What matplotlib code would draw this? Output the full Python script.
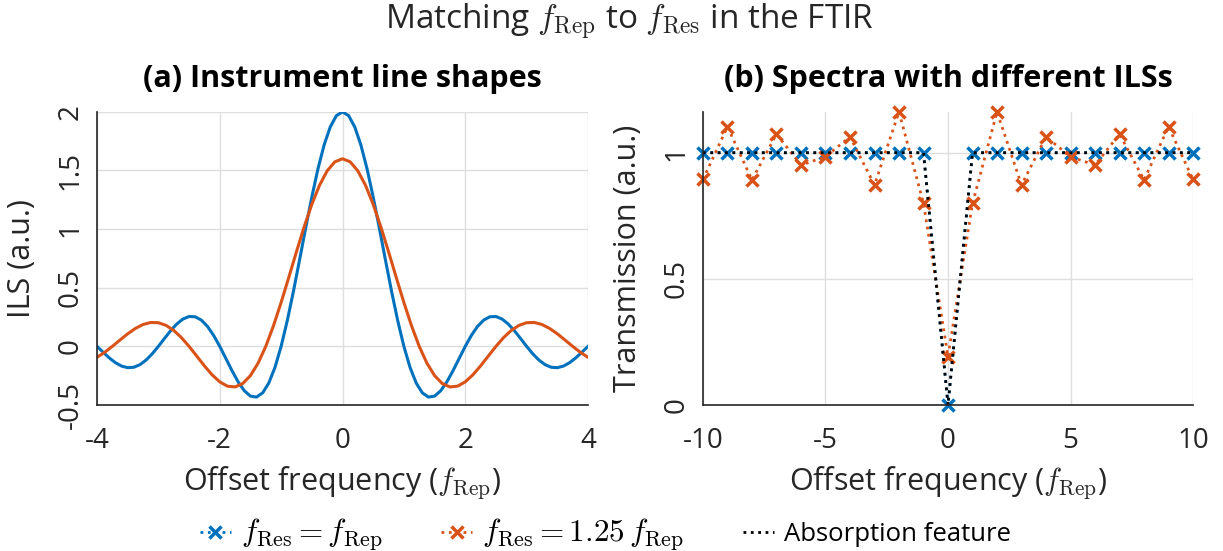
import numpy as np
import matplotlib.pyplot as plt

plt.rcParams['font.family'] = ['Open Sans', 'DejaVu Sans']
plt.rcParams['mathtext.fontset'] = 'cm'
plt.rcParams['axes.unicode_minus'] = False

BLUE = '#0072BD'
ORANGE = '#D95319'
TEXT = '#262626'

# ILS for f_Res = f_Rep, sampled every 0.1 f_Rep (positive side, symmetric)
ils_rep_x = np.round(np.arange(0, 41) * 0.1, 3)
ils_rep_y = [2.0, 1.9673, 1.8710, 1.7168, 1.5137, 1.2732, 1.0091, 0.7358, 0.4677, 0.2186,
             0.0, -0.1788, -0.3118, -0.3962, -0.4325, -0.4244, -0.3784, -0.3030, -0.2079, -0.1035,
             0.0, 0.0937, 0.1701, 0.2239, 0.2523, 0.2546, 0.2329, 0.1908, 0.1336, 0.0678,
             0.0, -0.0635, -0.1169, -0.1561, -0.1781, -0.1819, -0.1682, -0.1392, -0.0985, -0.0504,
             0.0]

# ILS for f_Res = 1.25 f_Rep, sampled every 0.125 f_Rep (positive side, symmetric)
ils_res_x = np.round(np.arange(0, 33) * 0.125, 4)
ils_res_y = [1.6, 1.5738, 1.4968, 1.3734, 1.2110, 1.0186, 0.8073, 0.5886, 0.3742, 0.1749,
             0.0, -0.1430, -0.2494, -0.3170, -0.3460, -0.3395, -0.3027, -0.2424, -0.1663, -0.0828,
             0.0, 0.0750, 0.1361, 0.1791, 0.2018, 0.2037, 0.1863, 0.1526, 0.1069, 0.0542,
             0.0, -0.0508, -0.0935]

# sampled spectra at the comb lines
comb_x = list(range(-10, 11))
spec_rep = [1, 1, 1, 1, 1, 1, 1, 1, 1, 1, 0, 1, 1, 1, 1, 1, 1, 1, 1, 1, 1]
spec_res = [0.894, 1.103, 0.892, 1.074, 0.951, 0.984, 1.063, 0.872, 1.162, 0.799, 0.192,
            0.799, 1.162, 0.872, 1.063, 0.984, 0.951, 1.074, 0.892, 1.103, 0.894]
absorption = [1, 1, 1, 1, 1, 1, 1, 1, 1, 1, 0, 1, 1, 1, 1, 1, 1, 1, 1, 1, 1]


def mirror(x, y):
    x = np.asarray(x)
    y = np.asarray(y)
    return np.concatenate([-x[:0:-1], x]), np.concatenate([y[:0:-1], y])


def style_axes(ax):
    ax.grid(True, color='#dedede', linewidth=1)
    ax.set_axisbelow(True)
    for s in ['top', 'right']:
        ax.spines[s].set_visible(False)
    for s in ['left', 'bottom']:
        ax.spines[s].set_color(TEXT)
        ax.spines[s].set_linewidth(1.2)
    ax.tick_params(direction='in', length=0, labelsize=20, colors=TEXT)
    ax.tick_params(axis='x', pad=16)
    ax.tick_params(axis='y', pad=9)


fig = plt.figure(figsize=(12.23, 5.51), dpi=100)
ax1 = fig.add_axes([0.0793, 0.265, 0.4015, 0.532])
ax2 = fig.add_axes([0.5748, 0.265, 0.4007, 0.532])

xr, yr = mirror(ils_rep_x, ils_rep_y)
xs, ys = mirror(ils_res_x, ils_res_y)
ax1.plot(xr, yr, color=BLUE, linewidth=2.2)
ax1.plot(xs, ys, color=ORANGE, linewidth=2.2)
ax1.set_xlim(-4, 4)
ax1.set_ylim(-0.5, 2)
ax1.set_xticks([-4, -2, 0, 2, 4])
ax1.set_yticks([-0.5, 0, 0.5, 1, 1.5, 2])
ax1.set_yticklabels(['-0.5', '0', '0.5', '1', '1.5', '2'], rotation=90, va='center')
ax1.set_xlabel(r'Offset frequency ($f_\mathrm{Rep}$)', fontsize=22, color=TEXT, labelpad=6)
ax1.set_ylabel('ILS (a.u.)', fontsize=22, color=TEXT, labelpad=14)
ax1.set_title('(a) Instrument line shapes', fontsize=22, fontweight='bold', pad=18)
style_axes(ax1)

l1, = ax2.plot(comb_x, spec_rep, color=BLUE, linestyle=':', linewidth=2,
               marker='x', markersize=9, markeredgewidth=2.5, clip_on=False)
l2, = ax2.plot(comb_x, spec_res, color=ORANGE, linestyle=':', linewidth=2,
               marker='x', markersize=9, markeredgewidth=2.5, clip_on=False)
l3, = ax2.plot(comb_x, absorption, color='black', linestyle=':', linewidth=2)
ax2.set_xlim(-10, 10)
ax2.set_ylim(0, 1.162)
ax2.set_xticks([-10, -5, 0, 5, 10])
ax2.set_yticks([0, 0.5, 1])
ax2.set_yticklabels(['0', '0.5', '1'], rotation=90, va='center')
ax2.set_xlabel(r'Offset frequency ($f_\mathrm{Rep}$)', fontsize=22, color=TEXT, labelpad=6)
ax2.set_ylabel('Transmission (a.u.)', fontsize=22, color=TEXT, labelpad=14)
ax2.set_title('(b) Spectra with different ILSs', fontsize=22, fontweight='bold', pad=18)
style_axes(ax2)

fig.suptitle(r'Matching $f_\mathrm{Rep}$ to $f_\mathrm{Res}$ in the FTIR',
             fontsize=24, color=TEXT, x=0.515, y=0.998)

leg = fig.legend([l1, l2, l3],
                 [r'$f_\mathrm{Res} = f_\mathrm{Rep}$', r'$f_\mathrm{Res} = 1.25\,f_\mathrm{Rep}$',
                  'Absorption feature'],
                 loc='center', bbox_to_anchor=(0.495, 0.030), ncol=3, frameon=False,
                 fontsize=18.5, handlelength=1.2, columnspacing=2.3, handletextpad=0.4)
# math entries read a bit larger than the plain one
leg.get_texts()[0].set_fontsize(22.5)
leg.get_texts()[1].set_fontsize(22.5)

fig.savefig('out.png', dpi=100)
